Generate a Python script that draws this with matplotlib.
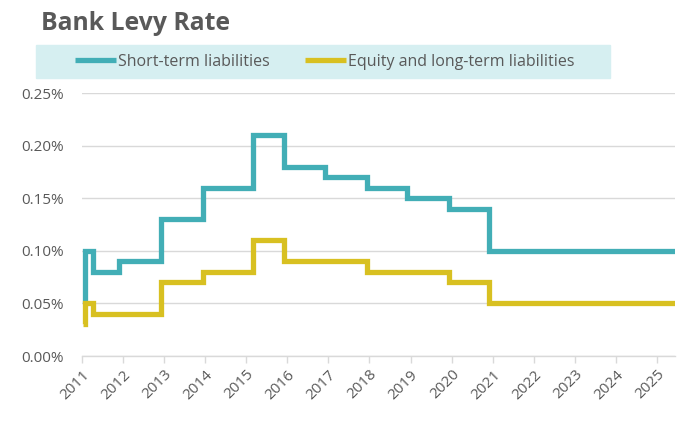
import matplotlib
matplotlib.use("Agg")
import matplotlib.pyplot as plt
from matplotlib.patches import Rectangle

# 数据 (百分比)
years = [2011.02, 2011.07, 2011.27, 2011.9, 2012.92, 2013.95, 2015.16,
         2015.92, 2016.92, 2017.94, 2018.91, 2019.94, 2020.91, 2025.44]
short_term = [0.05, 0.10, 0.08, 0.09, 0.13, 0.16, 0.21,
              0.18, 0.17, 0.16, 0.15, 0.14, 0.10, 0.10]
long_term = [0.03, 0.05, 0.04, 0.04, 0.07, 0.08, 0.11,
             0.09, 0.09, 0.08, 0.08, 0.07, 0.05, 0.05]
tick_years = list(range(2011, 2026))
y_ticks = [0.00, 0.05, 0.10, 0.15, 0.20, 0.25]

teal = '#42AEB6'
gold = '#D8C021'
grey_text = '#595959'
grid_col = '#D9D9D9'

plt.rcParams['font.family'] = ['Open Sans', 'DejaVu Sans']

fig = plt.figure(figsize=(7, 4.26), dpi=100)
ax = fig.add_axes([82 / 700, 1 - 356 / 426, (675 - 82) / 700, (356 - 93.3) / 426])

ax.step(years, short_term, where='post', color=teal, lw=3.8,
        solid_joinstyle='miter', solid_capstyle='butt', label='Short-term liabilities')
ax.step(years, long_term, where='post', color=gold, lw=3.8,
        solid_joinstyle='miter', solid_capstyle='butt', label='Equity and long-term liabilities')

ax.set_xlim(2011, 2025.44)
ax.set_ylim(0, 0.25)
ax.set_yticks(y_ticks)
ax.set_yticklabels(['{:.2f}%'.format(v) for v in y_ticks])
ax.set_xticks(tick_years)
ax.set_xticklabels([str(y) for y in tick_years], rotation=45, ha='right',
                   rotation_mode='anchor')

ax.grid(axis='y', color=grid_col, lw=1)
ax.set_axisbelow(True)
for s in ['top', 'right', 'left']:
    ax.spines[s].set_visible(False)
ax.spines['bottom'].set_color(grid_col)
ax.spines['bottom'].set_linewidth(1)
ax.tick_params(axis='y', length=0, pad=13, labelsize=11, labelcolor=grey_text)
ax.tick_params(axis='x', length=5, color=grid_col, width=1, pad=3,
               labelsize=11, labelcolor=grey_text)

# 标题
fig.text(41 / 700, 1 - 24 / 426, 'Bank Levy Rate', fontsize=17.8, fontweight='bold',
         color=grey_text, va='center', ha='left')

# 图例背景
fig.patches.append(Rectangle((36 / 700, 1 - 78 / 426), 574 / 700, 33 / 426,
                             transform=fig.transFigure, color='#D6EFF1', zorder=0))
leg = fig.legend(loc='center', bbox_to_anchor=(325 / 700, 1 - 61.5 / 426), ncol=2,
                 frameon=False, fontsize=11.5, handlelength=2.56, handletextpad=0.12,
                 columnspacing=2.2, labelcolor=grey_text)

fig.savefig('out.png', dpi=100)
